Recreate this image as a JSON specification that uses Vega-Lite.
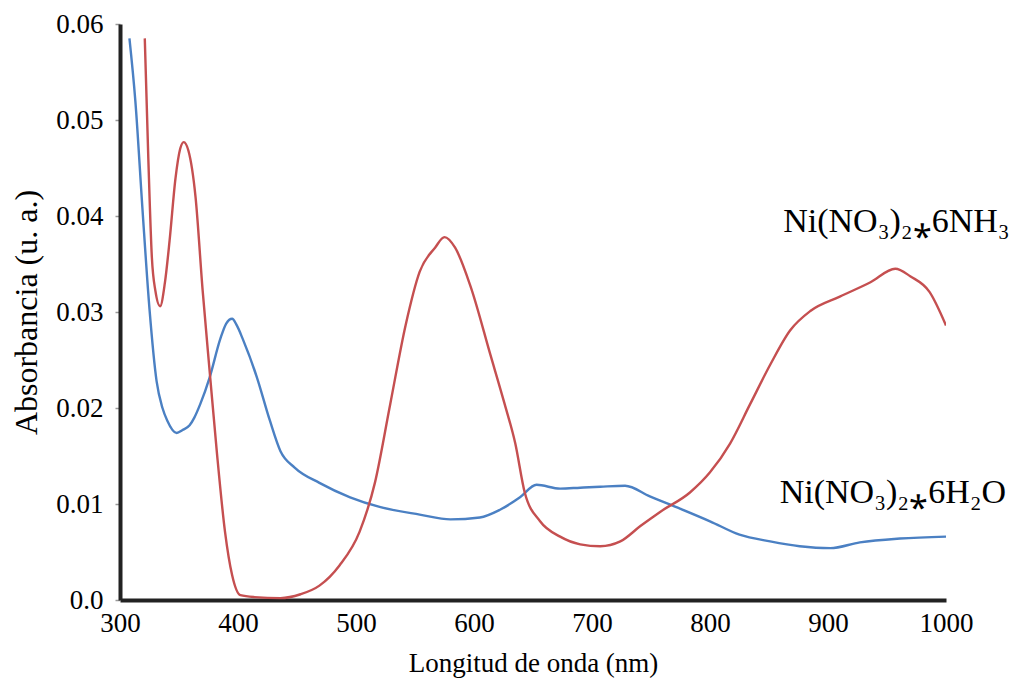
{
  "$schema": "https://vega.github.io/schema/vega-lite/v6.json",
  "width": 826,
  "height": 576,
  "autosize": {"type": "none"},
  "padding": {"left": 120, "top": 24, "right": 73, "bottom": 84},
  "background": "white",
  "config": {
    "view": {"stroke": null},
    "font": "Liberation Serif"
  },
  "datasets": {
    "spectra": [
      {"wl": 308, "abs": 0.0585, "serie": "H2O"},
      {"wl": 313, "abs": 0.052, "serie": "H2O"},
      {"wl": 319, "abs": 0.0408, "serie": "H2O"},
      {"wl": 325, "abs": 0.0303, "serie": "H2O"},
      {"wl": 331, "abs": 0.0228, "serie": "H2O"},
      {"wl": 336, "abs": 0.0200, "serie": "H2O"},
      {"wl": 340, "abs": 0.0187, "serie": "H2O"},
      {"wl": 348, "abs": 0.0174, "serie": "H2O"},
      {"wl": 353, "abs": 0.0177, "serie": "H2O"},
      {"wl": 359, "abs": 0.0182, "serie": "H2O"},
      {"wl": 363, "abs": 0.0190, "serie": "H2O"},
      {"wl": 368, "abs": 0.0204, "serie": "H2O"},
      {"wl": 376, "abs": 0.0232, "serie": "H2O"},
      {"wl": 385, "abs": 0.0272, "serie": "H2O"},
      {"wl": 390, "abs": 0.0288, "serie": "H2O"},
      {"wl": 395, "abs": 0.0293, "serie": "H2O"},
      {"wl": 399, "abs": 0.0286, "serie": "H2O"},
      {"wl": 404, "abs": 0.0272, "serie": "H2O"},
      {"wl": 416, "abs": 0.0232, "serie": "H2O"},
      {"wl": 427, "abs": 0.0187, "serie": "H2O"},
      {"wl": 436, "abs": 0.0155, "serie": "H2O"},
      {"wl": 448, "abs": 0.0138, "serie": "H2O"},
      {"wl": 469, "abs": 0.0122, "serie": "H2O"},
      {"wl": 495, "abs": 0.0107, "serie": "H2O"},
      {"wl": 520, "abs": 0.0097, "serie": "H2O"},
      {"wl": 554, "abs": 0.0089, "serie": "H2O"},
      {"wl": 580, "abs": 0.0084, "serie": "H2O"},
      {"wl": 605, "abs": 0.0086, "serie": "H2O"},
      {"wl": 622, "abs": 0.0094, "serie": "H2O"},
      {"wl": 639, "abs": 0.0107, "serie": "H2O"},
      {"wl": 653, "abs": 0.0120, "serie": "H2O"},
      {"wl": 673, "abs": 0.0116, "serie": "H2O"},
      {"wl": 690, "abs": 0.0117, "serie": "H2O"},
      {"wl": 707, "abs": 0.0118, "serie": "H2O"},
      {"wl": 728, "abs": 0.0119, "serie": "H2O"},
      {"wl": 749, "abs": 0.0108, "serie": "H2O"},
      {"wl": 775, "abs": 0.0095, "serie": "H2O"},
      {"wl": 800, "abs": 0.0082, "serie": "H2O"},
      {"wl": 825, "abs": 0.0068, "serie": "H2O"},
      {"wl": 851, "abs": 0.0061, "serie": "H2O"},
      {"wl": 876, "abs": 0.0056, "serie": "H2O"},
      {"wl": 902, "abs": 0.0054, "serie": "H2O"},
      {"wl": 927, "abs": 0.0060, "serie": "H2O"},
      {"wl": 961, "abs": 0.0064, "serie": "H2O"},
      {"wl": 1000, "abs": 0.0066, "serie": "H2O"},

      {"wl": 321, "abs": 0.0585, "serie": "NH3"},
      {"wl": 324, "abs": 0.046, "serie": "NH3"},
      {"wl": 327, "abs": 0.0357, "serie": "NH3"},
      {"wl": 330, "abs": 0.0322, "serie": "NH3"},
      {"wl": 334, "abs": 0.0306, "serie": "NH3"},
      {"wl": 338, "abs": 0.0330, "serie": "NH3"},
      {"wl": 342, "abs": 0.0374, "serie": "NH3"},
      {"wl": 347, "abs": 0.0439, "serie": "NH3"},
      {"wl": 351, "abs": 0.0470, "serie": "NH3"},
      {"wl": 354, "abs": 0.0477, "serie": "NH3"},
      {"wl": 358, "abs": 0.0468, "serie": "NH3"},
      {"wl": 364, "abs": 0.0420, "serie": "NH3"},
      {"wl": 370, "abs": 0.0323, "serie": "NH3"},
      {"wl": 376, "abs": 0.0238, "serie": "NH3"},
      {"wl": 382, "abs": 0.0155, "serie": "NH3"},
      {"wl": 389, "abs": 0.0071, "serie": "NH3"},
      {"wl": 395, "abs": 0.0026, "serie": "NH3"},
      {"wl": 402, "abs": 0.0005, "serie": "NH3"},
      {"wl": 414, "abs": 0.0003, "serie": "NH3"},
      {"wl": 436, "abs": 0.0002, "serie": "NH3"},
      {"wl": 453, "abs": 0.0006, "serie": "NH3"},
      {"wl": 469, "abs": 0.0015, "serie": "NH3"},
      {"wl": 486, "abs": 0.0036, "serie": "NH3"},
      {"wl": 503, "abs": 0.0071, "serie": "NH3"},
      {"wl": 516, "abs": 0.0122, "serie": "NH3"},
      {"wl": 529, "abs": 0.0204, "serie": "NH3"},
      {"wl": 542, "abs": 0.0286, "serie": "NH3"},
      {"wl": 554, "abs": 0.0342, "serie": "NH3"},
      {"wl": 567, "abs": 0.0367, "serie": "NH3"},
      {"wl": 575, "abs": 0.0378, "serie": "NH3"},
      {"wl": 584, "abs": 0.0367, "serie": "NH3"},
      {"wl": 597, "abs": 0.0327, "serie": "NH3"},
      {"wl": 614, "abs": 0.0255, "serie": "NH3"},
      {"wl": 626, "abs": 0.0204, "serie": "NH3"},
      {"wl": 635, "abs": 0.0163, "serie": "NH3"},
      {"wl": 643, "abs": 0.0112, "serie": "NH3"},
      {"wl": 656, "abs": 0.0082, "serie": "NH3"},
      {"wl": 673, "abs": 0.0066, "serie": "NH3"},
      {"wl": 690, "abs": 0.0058, "serie": "NH3"},
      {"wl": 707, "abs": 0.0056, "serie": "NH3"},
      {"wl": 724, "abs": 0.0061, "serie": "NH3"},
      {"wl": 741, "abs": 0.0077, "serie": "NH3"},
      {"wl": 758, "abs": 0.0092, "serie": "NH3"},
      {"wl": 783, "abs": 0.0112, "serie": "NH3"},
      {"wl": 800, "abs": 0.0133, "serie": "NH3"},
      {"wl": 817, "abs": 0.0163, "serie": "NH3"},
      {"wl": 834, "abs": 0.0204, "serie": "NH3"},
      {"wl": 851, "abs": 0.0245, "serie": "NH3"},
      {"wl": 868, "abs": 0.0281, "serie": "NH3"},
      {"wl": 885, "abs": 0.0301, "serie": "NH3"},
      {"wl": 910, "abs": 0.0316, "serie": "NH3"},
      {"wl": 936, "abs": 0.0331, "serie": "NH3"},
      {"wl": 957, "abs": 0.0345, "serie": "NH3"},
      {"wl": 970, "abs": 0.0337, "serie": "NH3"},
      {"wl": 986, "abs": 0.0321, "serie": "NH3"},
      {"wl": 1000, "abs": 0.0286, "serie": "NH3"}
    ],
    "labels": [
      {"wl": 958, "abs": 0.0394, "label": "Ni(NO₃)₂⁎6NH₃"},
      {"wl": 955, "abs": 0.0111, "label": "Ni(NO₃)₂⁎6H₂O"}
    ]
  },
  "layer": [
    {
      "data": {"name": "spectra"},
      "mark": {"type": "line", "strokeWidth": 2.4, "clip": true, "interpolate": "monotone"},
      "encoding": {
        "x": {
          "field": "wl",
          "type": "quantitative",
          "scale": {"domain": [300, 1000], "nice": false, "zero": false},
          "axis": {
            "title": "Longitud de onda (nm)",
            "values": [300, 400, 500, 600, 700, 800, 900, 1000],
            "format": "d",
            "grid": false,
            "domainColor": "#222222",
            "domainWidth": 4,
            "ticks": false,
            "labelFont": "Liberation Serif",
            "labelFontSize": 27,
            "labelColor": "black",
            "labelPadding": 10,
            "labelFlush": false,
            "titleFont": "Liberation Serif",
            "titleFontSize": 27,
            "titleFontWeight": "normal",
            "titleColor": "black",
            "titlePadding": 14
          }
        },
        "y": {
          "field": "abs",
          "type": "quantitative",
          "scale": {"domain": [0, 0.06], "nice": false},
          "axis": {
            "title": "Absorbancia (u. a.)",
            "values": [0, 0.01, 0.02, 0.03, 0.04, 0.05, 0.06],
            "labelExpr": "datum.value == 0 ? '0.0' : format(datum.value, '.2f')",
            "grid": false,
            "domainColor": "#222222",
            "domainWidth": 4,
            "tickColor": "#999999",
            "tickSize": 5,
            "tickWidth": 1.5,
            "labelFont": "Liberation Serif",
            "labelFontSize": 27,
            "labelColor": "black",
            "labelPadding": 12,
            "labelFlush": false,
            "titleFont": "Liberation Serif",
            "titleFontSize": 32,
            "titleFontWeight": "normal",
            "titleColor": "black",
            "titlePadding": 12
          }
        },
        "color": {
          "field": "serie",
          "type": "nominal",
          "scale": {"domain": ["H2O", "NH3"], "range": ["#4b80c3", "#c54f50"]},
          "legend": null
        }
      }
    },
    {
      "data": {"name": "labels"},
      "mark": {"type": "text", "font": "Liberation Serif", "fontSize": 34, "color": "black", "align": "center", "baseline": "middle"},
      "encoding": {
        "x": {"field": "wl", "type": "quantitative"},
        "y": {"field": "abs", "type": "quantitative"},
        "text": {"field": "label"}
      }
    }
  ]
}
